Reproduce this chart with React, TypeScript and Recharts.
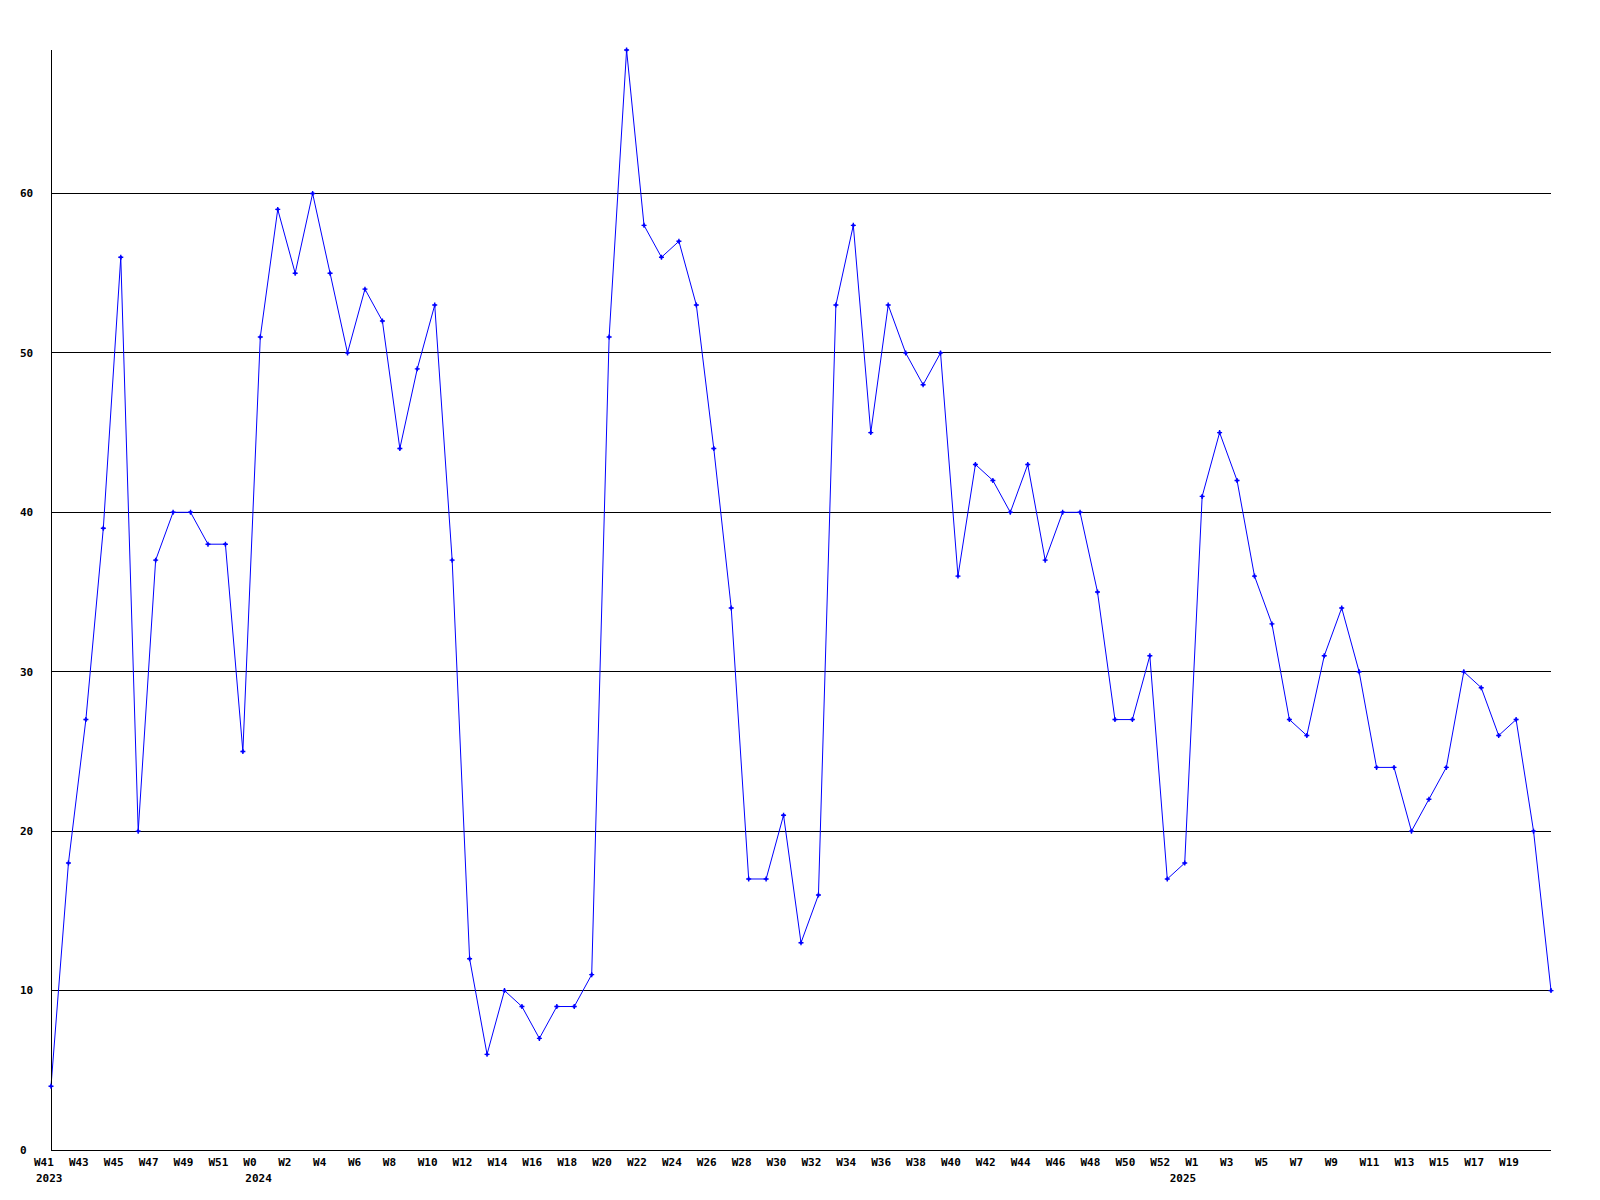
import React from "react";
import { LineChart, Line, XAxis, YAxis, CartesianGrid } from "recharts";

const weeks2023 = ["W41", "W42", "W43", "W44", "W45", "W46", "W47", "W48", "W49", "W50", "W51", "W52"];
const weeks2024 = [
  "W0", "W1", "W2", "W3", "W4", "W5", "W6", "W7", "W8", "W9",
  "W10", "W11", "W12", "W13", "W14", "W15", "W16", "W17", "W18", "W19",
  "W20", "W21", "W22", "W23", "W24", "W25", "W26", "W27", "W28", "W29",
  "W30", "W31", "W32", "W33", "W34", "W35", "W36", "W37", "W38", "W39",
  "W40", "W41", "W42", "W43", "W44", "W45", "W46", "W47", "W48", "W49",
  "W50", "W51", "W52",
];
const weeks2025 = [
  "W0", "W1", "W2", "W3", "W4", "W5", "W6", "W7", "W8", "W9",
  "W10", "W11", "W12", "W13", "W14", "W15", "W16", "W17", "W18", "W19",
  "W20", "W21",
];

const values2023 = [4, 18, 27, 39, 56, 20, 37, 40, 40, 38, 38, 25];
const values2024 = [
  51, 59, 55, 60, 55, 50, 54, 52, 44, 49,
  53, 37, 12, 6, 10, 9, 7, 9, 9, 11,
  51, 69, 58, 56, 57, 53, 44, 34, 17, 17,
  21, 13, 16, 53, 58, 45, 53, 50, 48, 50,
  36, 43, 42, 40, 43, 37, 40, 40, 35, 27,
  27, 31, 17,
];
const values2025 = [
  18, 41, 45, 42, 36, 33, 27, 26, 31, 34,
  30, 24, 24, 20, 22, 24, 30, 29, 26, 27,
  20, 10,
];

const yTicks = [0, 10, 20, 30, 40, 50, 60];

const yearBlocks = [
  { year: "2023", weeks: weeks2023, values: values2023 },
  { year: "2024", weeks: weeks2024, values: values2024 },
  { year: "2025", weeks: weeks2025, values: values2025 },
];

const data: { idx: number; week: string; year: string; value: number; firstOfYear: boolean }[] = [];
yearBlocks.forEach((b) => {
  b.weeks.forEach((w, i) => {
    data.push({ idx: data.length, week: w, year: b.year, value: b.values[i], firstOfYear: i === 0 });
  });
});

const BLUE = "#0000ff";
const FONT = "'DejaVu Sans Mono', monospace";

function XTick(props: any) {
  const { x, y, payload } = props;
  const d = data[payload.value];
  if (!d) return null;
  const showWeek = d.idx % 2 === 0 && d.idx < data.length - 1;
  const showYear = d.firstOfYear;
  return (
    <g>
      {showWeek && (
        <text x={x - 17} y={y + 16} textAnchor="start" fontFamily={FONT} fontWeight="bold" fontSize={11} fill="#000">
          {d.week}
        </text>
      )}
      {showYear && (
        <text x={x - 15} y={y + 32} textAnchor="start" fontFamily={FONT} fontWeight="bold" fontSize={11} fill="#000">
          {d.year}
        </text>
      )}
    </g>
  );
}

function YTick(props: any) {
  const { x, y, payload } = props;
  return (
    <text x={x - 31} y={y} dy="0.35em" textAnchor="start" fontFamily={FONT} fontWeight="bold" fontSize={11} fill="#000">
      {payload.value}
    </text>
  );
}

function Marker(props: any) {
  const { cx, cy, index } = props;
  if (cx == null || cy == null) return <g key={index} />;
  return (
    <g key={index}>
      <path d={`M${cx - 2.5},${cy}L${cx + 2.5},${cy}M${cx},${cy - 2.5}L${cx},${cy + 2.5}`} stroke={BLUE} strokeWidth={1.4} />
      <rect x={cx - 1.2} y={cy - 1.2} width={2.4} height={2.4} fill={BLUE} />
    </g>
  );
}

export default function App() {
  return (
    <div style={{ position: "absolute", left: 0, top: 0, background: "#fff" }}>
      <LineChart width={1600} height={1200} data={data} margin={{ top: 50, right: 49, bottom: 0, left: 0 }}>
        <CartesianGrid
          horizontal={true}
          vertical={false}
          horizontalValues={yTicks}
          stroke="#000"
          strokeWidth={1}
          shapeRendering="crispEdges"
        />
        <XAxis
          dataKey="idx"
          type="category"
          interval={0}
          height={50}
          tickLine={false}
          tickSize={0}
          tickMargin={0}
          axisLine={{ stroke: "#000", strokeWidth: 1, shapeRendering: "crispEdges" }}
          tick={<XTick />}
        />
        <YAxis
          width={51}
          domain={[0, 69]}
          ticks={yTicks}
          interval={0}
          tickLine={false}
          tickSize={0}
          tickMargin={0}
          axisLine={{ stroke: "#000", strokeWidth: 1, shapeRendering: "crispEdges" }}
          tick={<YTick />}
        />
        <Line
          type="linear"
          dataKey="value"
          stroke={BLUE}
          strokeWidth={1}
          dot={(p: any) => <Marker {...p} />}
          activeDot={false}
          isAnimationActive={false}
        />
      </LineChart>
    </div>
  );
}
